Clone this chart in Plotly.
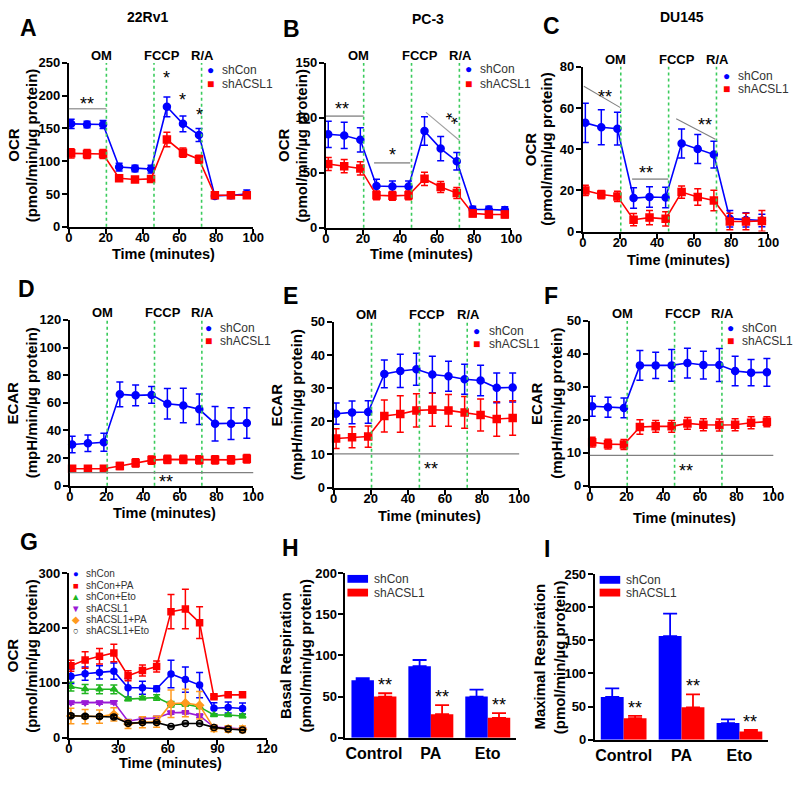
import plotly.graph_objects as go

FIG_W, FIG_H = 800, 785
FONT = "Liberation Sans, Arial, Helvetica, sans-serif"
BLUE, RED = "#0000ff", "#ff0000"
G_COLORS = ["#0000ff", "#ff0000", "#1fb51f", "#9a1ad6", "#ff9a1f", "#000000"]
INJ_GREEN = "#3acb5c"
SIG_GRAY = "#a0a0a0"
LEG_TXT = "#333333"

# ---------------- data ----------------
time12 = [1.3, 9.9, 18.6, 27.3, 35.9, 44.6, 53.2, 61.9, 70.6, 79.2, 87.9, 96.5]
time13 = [1.3, 9.9, 18.6, 27.3, 35.9, 44.6, 53.2, 61.9, 70.6, 79.2, 87.9, 96.5, 105.2]
inject_time = [20.4, 46.2, 72.0]
inject_label = ["OM", "FCCP", "R/A"]
series_names = ["shCon", "shACSL1"]

# A: 22Rv1 OCR
a_con = [157, 156, 156, 91, 89, 88, 183, 157, 140, 47, 48, 50]
a_con_err = [7, 5, 6, 6, 5, 6, 15, 12, 10, 4, 5, 6]
a_kd = [112, 111, 111, 74, 72, 73, 133, 113, 103, 48, 48, 48]
a_kd_err = [7, 7, 7, 4, 3, 4, 11, 7, 6, 3, 3, 3]
# B: PC-3 OCR
b_con = [85, 84, 80, 38, 37.5, 37.5, 88, 72, 60.5, 16.5, 16.5, 16]
b_con_err = [12, 12, 11, 6, 5, 5, 13, 11, 8, 3, 3, 3]
b_kd = [58, 56, 54, 29.5, 29, 29.5, 44.5, 37, 31.5, 13, 12, 12]
b_kd_err = [6, 6, 6, 4, 4, 4, 6, 5, 5, 3, 3, 3]
# C: DU145 OCR
c_con = [52.8, 50.7, 50, 16.3, 16.8, 16.6, 42.8, 40.1, 37.4, 6.3, 5.7, 5.4]
c_con_err = [9.5, 8.5, 8, 5, 5, 5, 7, 7, 6.5, 4, 3.5, 3]
c_kd = [20, 18, 17.1, 5.8, 6.8, 6.2, 19.2, 16.8, 15.1, 4.9, 4.9, 5.2]
c_kd_err = [2.5, 2, 2.5, 3, 3.5, 3.5, 3, 4, 5, 4, 4, 5]
# D: 22Rv1 ECAR
d_con = [29.8, 30.7, 31.4, 66.1, 65.4, 65.7, 59.3, 58.1, 55.3, 44.9, 44.9, 45.4]
d_con_err = [6, 6, 6.5, 9, 7.5, 6, 11, 12.5, 11, 12.5, 11.5, 11]
d_kd = [12.2, 12.2, 12.2, 14.2, 16.5, 18.5, 19, 19, 18.7, 18.7, 18.7, 19.5]
d_kd_err = [2, 2, 2, 2.5, 3, 3, 3, 3, 3, 3, 3, 3]
# E: PC-3 ECAR
e_con = [22.3, 22.7, 22.8, 34.3, 35.2, 35.7, 34.1, 33.6, 32.7, 32.3, 30.1, 30.2]
e_con_err = [3.2, 3.4, 3.4, 4.2, 5, 4.8, 5.5, 4.5, 4.5, 4.6, 4.5, 4.4]
e_kd = [14.8, 15.2, 15.4, 21.6, 22.2, 23.3, 23.5, 23.3, 22.7, 21.9, 20.7, 21.0]
e_kd_err = [3, 3.2, 3.2, 4.8, 5.5, 5, 5, 4.8, 4.8, 4.8, 5.2, 5.2]
# F: DU145 ECAR
f_con = [24.1, 23.8, 23.6, 36.5, 36.5, 36.5, 37.2, 36.6, 36.6, 34.8, 34.3, 34.4]
f_con_err = [3, 3, 3, 4.5, 4, 4.8, 4.5, 4.2, 5, 4.5, 4, 4.2]
f_kd = [13.2, 12.6, 12.5, 17.8, 18, 18, 18.9, 18.5, 18.4, 18.5, 19.1, 19.4]
f_kd_err = [1.5, 1.5, 1.5, 2.2, 1.8, 1.8, 1.8, 1.8, 1.8, 1.8, 1.8, 1.5]

# G: OCR with PA / Eto treatments
g_names = ["shCon", "shCon+PA", "shCon+Eto", "shACSL1", "shACSL1+PA", "shACSL1+Eto"]
g_shcon = [112, 116.6, 119, 121.3, 91, 91, 89.3, 116, 106, 96, 53.8, 55, 53.3]
g_shcon_err = [13, 12, 12, 15, 17, 12, 5, 25, 23, 23, 10, 10, 10]
g_shcon_pa = [131, 141.4, 148.5, 154.4, 113, 122.5, 129.6, 229.6, 234.3, 209.5, 74.6, 78.1, 78.1]
g_shcon_pa_err = [10, 15, 14, 16, 9, 10, 10, 31, 36, 29, 3, 3, 3]
g_shcon_eto = [93, 88.8, 88.2, 88.2, 70.4, 72.2, 73.4, 61, 61, 56.2, 41.4, 41.4, 39.6]
g_shcon_eto_err = [8, 8, 8, 8, 3, 3, 5, 5, 3, 3, 2, 2, 3]
g_shacsl1 = [63.9, 63.9, 63.9, 64.5, 30.2, 34.9, 36.1, 45.6, 46.2, 40.2, 19.5, 17.8, 16]
g_shacsl1_err = [3, 3, 3, 3, 3, 3, 3, 3, 3, 3, 2, 2, 2]
g_shacsl1_pa = [39.6, 38.5, 38.5, 42.6, 24.9, 28.4, 29, 62.1, 63.3, 59.2, 17.2, 16, 15.4]
g_shacsl1_pa_err = [14, 13, 12, 12, 8, 10, 10, 25, 25, 25, 6, 6, 6]
g_shacsl1_eto = [40.2, 39.1, 38.5, 37.9, 26.6, 27.8, 27.8, 20.7, 26, 26, 18.9, 16, 14.2]
g_shacsl1_eto_err = [3, 3, 3, 3, 2, 2, 2, 1, 1, 1, 1, 1, 1]

# H / I: bar charts
bar_cats = ["Control", "PA", "Eto"]
h_con = [69.8, 86.9, 50.0]
h_con_err = [2.4, 7.5, 8.3]
h_kd = [50.0, 28.6, 24.2]
h_kd_err = [4.0, 11.0, 5.6]
i_con = [64.6, 156.3, 25.1]
i_con_err = [12.8, 34.0, 5.5]
i_kd = [32.5, 48.8, 12.3]
i_kd_err = [3.5, 19.7, 2.5]

# significance marks: (x, y, text) and gray lines (x0, y0, x1, y1)
a_stars = [(10.1, 193, "**"), (53.2, 233, "*"), (61.7, 200, "*"), (70.7, 177, "*")]
a_siglines = [(0, 180, 20.4, 180)]
b_stars = [(8.6, 111.6, "**"), (35.8, 69.4, "*")]
b_siglines = [(0, 101.6, 20.4, 101.6), (26.0, 59.0, 45.5, 59.0), (54.0, 105.0, 72.1, 79.4)]
b_rot_star = (67.2, 101.0, "**")
c_stars = [(12.0, 67.1, "**"), (33.9, 30.2, "**"), (65.8, 53.8, "**")]
c_siglines = [(0.5, 70.6, 20.2, 60.2), (26.5, 25.5, 46.0, 25.5), (50.3, 54.8, 71.4, 44.8)]
d_star, d_sigline = (52.4, 5.2, "**"), 9.4
e_star, e_sigline = (52.4, 6.9, "**"), 10.2
f_star, f_sigline = (52.4, 5.7, "**"), 9.2
bar_star_text = "**"

# ---------------- layout helpers ----------------
def px(x):
    return x / FIG_W

def py(y):
    return 1 - y / FIG_H

# panel boxes in pixels: (left, top, right, bottom)
boxes = {
    1: (66, 57, 254, 224),
    2: (328, 57, 517, 225),
    3: (590, 61, 779, 229),
    4: (67, 319, 254, 488),
    5: (336, 321, 525, 490),
    6: (597, 320, 784, 488),
    7: (66, 577, 268, 745),
    8: (348, 577, 522, 745),
    9: (602, 578, 779, 747),
}

fig = go.Figure()
annotations = []
shapes = []

def axn(i):
    return ("x" if i == 1 else f"x{i}"), ("y" if i == 1 else f"y{i}")

def tick_font(size=13):
    return dict(family=FONT, size=size, color="black", weight="bold")

def add_axes(i, xr, xdtick, yr, ydtick, category=False):
    l, t, r, b = boxes[i]
    xa, ya = axn(i)
    xkey = "xaxis" if i == 1 else f"xaxis{i}"
    ykey = "yaxis" if i == 1 else f"yaxis{i}"
    common = dict(showline=True, linecolor="black", linewidth=2, showgrid=False,
                  zeroline=False, fixedrange=True, tickcolor="black", tickwidth=2)
    if category:
        xax = dict(common, domain=[px(l), px(r)], anchor=ya, type="category",
                   range=[-0.5, 2.5], ticks="", tickfont=tick_font(16))
    else:
        xax = dict(common, domain=[px(l), px(r)], anchor=ya, range=xr, dtick=xdtick,
                   tick0=0, ticks="outside", ticklen=5, tickfont=tick_font(),
                   ticklabelstandoff=-7)
    yax = dict(common, domain=[py(b), py(t)], anchor=xa, range=yr, dtick=ydtick,
               tick0=0, ticks="outside", ticklen=5, tickfont=tick_font(),
               ticklabelstandoff=-1)
    fig.update_layout(**{xkey: xax, ykey: yax})

def line_trace(i, x, y, err, color, symbol, name, size=7):
    xa, ya = axn(i)
    fig.add_trace(go.Scatter(
        x=x, y=y, mode="lines+markers", name=name, xaxis=xa, yaxis=ya,
        line=dict(color=color, width=1.6),
        marker=dict(color=color, symbol=symbol, size=size,
                    line=dict(color=color, width=1.5)),
        error_y=dict(type="data", array=err, color=color, thickness=1.5, width=3.5),
        cliponaxis=False, showlegend=False))

def text_ann(x, y, text, size, bold=True, angle=0, color="black", xanchor="center",
             yanchor="middle", pad=1):
    annotations.append(dict(
        x=px(x), y=py(y), xref="paper", yref="paper", text=text, showarrow=False,
        textangle=angle, xanchor=xanchor, yanchor=yanchor, borderpad=pad,
        font=dict(family=FONT, size=size, color=color, weight="bold" if bold else "normal")))

def injections(i):
    xa, ya = axn(i)
    shifts = [-5, 8, 1]
    for t, lab, s in zip(inject_time, inject_label, shifts):
        shapes.append(dict(type="line", xref=xa, yref=f"{ya} domain", x0=t, x1=t, y0=0, y1=1,
                           line=dict(color=INJ_GREEN, width=1.6, dash="3px,3px")))
        annotations.append(dict(x=t, y=1, xref=xa, yref=f"{ya} domain", text=lab,
                                showarrow=False, xanchor="center", yanchor="middle",
                                xshift=s, yshift=7,
                                font=dict(family=FONT, size=13, color="black", weight="bold")))

def stars(i, items, angle=0):
    xa, ya = axn(i)
    for x, y, txt in items:
        annotations.append(dict(x=x, y=y, xref=xa, yref=ya, text=txt, showarrow=False,
                                textangle=angle, xanchor="center", yanchor="middle", yshift=-4,
                                font=dict(family=FONT, size=18, color="black")))

def siglines(i, items, color=SIG_GRAY, width=1.6):
    xa, ya = axn(i)
    for x0, y0, x1, y1 in items:
        shapes.append(dict(type="line", xref=xa, yref=ya, x0=x0, x1=x1, y0=y0, y1=y1,
                           line=dict(color=color, width=width)))

def hline(i, y):
    xa, ya = axn(i)
    shapes.append(dict(type="line", xref=f"{xa} domain", yref=ya, x0=0, x1=1, y0=y, y1=y,
                       line=dict(color="#808080", width=1.2)))

def ytitles(i, main, sub, x_main, x_sub):
    l, t, r, b = boxes[i]
    cy = (t + b) / 2
    text_ann(x_main, cy, main, 15, angle=-90)
    text_ann(x_sub, cy, sub, 15, angle=-90)

def xtitle(i, text, y):
    l, t, r, b = boxes[i]
    text_ann((l + r) / 2 + 3, y, text, 14.5)

def marker_legend(x, y0, dy, glyphs, colors, names, gsize=12, tsize=12, pad=1):
    for k, (g, c, n) in enumerate(zip(glyphs, colors, names)):
        yy = y0 + k * dy
        text_ann(x, yy, g, gsize, bold=False, color=c, pad=pad)
        text_ann(x + 10, yy, n, tsize, bold=False, color=LEG_TXT, xanchor="left", pad=pad)

def bar_legend(x, y0, dy, colors, names):
    for k, (c, n) in enumerate(zip(colors, names)):
        yy = y0 + k * dy
        shapes.append(dict(type="rect", xref="paper", yref="paper", x0=px(x), x1=px(x + 21),
                           y0=py(yy + 4), y1=py(yy - 4), fillcolor=c, line=dict(width=0)))
        text_ann(x + 25, yy, n, 12, bold=False, color=LEG_TXT, xanchor="left")

# ---------------- panels A-F ----------------
line_panels = [
    (1, a_con, a_con_err, a_kd, a_kd_err, [0, 250], 50),
    (2, b_con, b_con_err, b_kd, b_kd_err, [0, 150], 50),
    (3, c_con, c_con_err, c_kd, c_kd_err, [0, 80], 20),
    (4, d_con, d_con_err, d_kd, d_kd_err, [0, 120], 20),
    (5, e_con, e_con_err, e_kd, e_kd_err, [0, 50], 10),
    (6, f_con, f_con_err, f_kd, f_kd_err, [0, 50], 10),
]
for i, con, con_e, kd, kd_e, yr, ydt in line_panels:
    add_axes(i, [0, 100], 20, yr, ydt)
    injections(i)
    line_trace(i, time12, con, con_e, BLUE, "circle", series_names[0])
    line_trace(i, time12, kd, kd_e, RED, "square", series_names[1])

# significance
siglines(1, a_siglines); stars(1, a_stars)
siglines(2, b_siglines[:2]); siglines(2, b_siglines[2:], width=1.1); stars(2, b_stars)
stars(2, [b_rot_star], angle=40)
siglines(3, c_siglines[:1] + c_siglines[2:], color="#808080", width=1.1)
siglines(3, c_siglines[1:2]); stars(3, c_stars)
hline(4, d_sigline); stars(4, [d_star])
hline(5, e_sigline); stars(5, [e_star])
hline(6, f_sigline); stars(6, [f_star])

# ---------------- panel G ----------------
add_axes(7, [0, 120], 30, [0, 300], 100)
g_series = [(g_shcon, g_shcon_err, "circle"), (g_shcon_pa, g_shcon_pa_err, "square"),
            (g_shcon_eto, g_shcon_eto_err, "triangle-up"), (g_shacsl1, g_shacsl1_err, "triangle-down"),
            (g_shacsl1_pa, g_shacsl1_pa_err, "diamond"), (g_shacsl1_eto, g_shacsl1_eto_err, "circle-open")]
for (vals, errs, sym), col, nm in zip(g_series, G_COLORS, g_names):
    line_trace(7, time13, vals, errs, col, sym, nm, size=6)

# ---------------- panels H, I ----------------
for i, con, con_e, kd, kd_e, yr in [(8, h_con, h_con_err, h_kd, h_kd_err, [0, 200]),
                                     (9, i_con, i_con_err, i_kd, i_kd_err, [0, 250])]:
    add_axes(i, None, None, yr, 50, category=True)
    xa, ya = axn(i)
    for vals, errs, col, nm in [(con, con_e, BLUE, "shCon"), (kd, kd_e, RED, "shACSL1")]:
        fig.add_trace(go.Bar(x=bar_cats, y=vals, name=nm, xaxis=xa, yaxis=ya,
                             marker=dict(color=col, line=dict(width=0)),
                             error_y=dict(type="data", symmetric=False, array=errs,
                                          arrayminus=[0] * len(errs), color=col,
                                          thickness=1.8, width=7),
                             showlegend=False))
    for c, v, e in zip(bar_cats, kd, kd_e):
        annotations.append(dict(x=c, y=v + e, xref=xa, yref=ya, text=bar_star_text,
                                showarrow=False, xanchor="center", yanchor="bottom",
                                xshift=11, yshift=-4,
                                font=dict(family=FONT, size=18, color="black")))

# ---------------- titles, letters, axis titles ----------------
text_ann(146, 10, "22Rv1", 14)
text_ann(432, 12, "PC-3", 14)
text_ann(691, 10, "DU145", 14)
for letter, (lx, ly) in zip("ABCDEFGHI", [(25, 21), (293, 22), (558, 19), (23, 288), (292, 295),
                                           (557, 295), (25, 545), (292, 552), (553, 553)]):
    text_ann(lx, ly, letter, 23)

ytitles(1, "OCR", "(pmol/min/µg protein)", 10, 28)
ytitles(2, "OCR", "(pmol/min/µg protein)", 285, 303)
ytitles(3, "OCR", "(pmol/min/µg protein)", 536, 553)
ytitles(4, "ECAR", "(mpH/min/µg protein)", 9, 28)
ytitles(5, "ECAR", "(mpH/min/µg protein)", 278, 298)
ytitles(6, "ECAR", "(mpH/min/µg protein)", 542, 563)
ytitles(7, "OCR", "(pmol/min/µg protein)", 9, 28)
ytitles(8, "Basal Respiration", "(pmol/min/µg protein)", 287, 307)
ytitles(9, "Maximal Respiration", "(pmol/min/µg protein)", 546, 566)

for i, y in [(1, 252), (2, 252), (3, 258), (4, 516), (5, 519), (6, 521), (7, 771)]:
    xtitle(i, "Time (minutes)", y)

# legends
marker_legend(210, 64, 14, ["●", "■"], [BLUE, RED], series_names)
marker_legend(473, 63, 15, ["●", "■"], [BLUE, RED], series_names)
marker_legend(736, 70, 14, ["●", "■"], [BLUE, RED], series_names)
marker_legend(208, 327, 14, ["●", "■"], [BLUE, RED], series_names)
marker_legend(482, 330, 14, ["●", "■"], [BLUE, RED], series_names)
marker_legend(740, 327, 14, ["●", "■"], [BLUE, RED], series_names)
marker_legend(73, 578, 11.6, ["●", "■", "▲", "▼", "◆", "○"], G_COLORS, g_names,
              gsize=9.5, tsize=10, pad=0)
bar_legend(350, 583, 14, [BLUE, RED], ["shCon", "shACSL1"])
bar_legend(607, 584, 13, [BLUE, RED], ["shCon", "shACSL1"])

fig.update_layout(
    width=FIG_W, height=FIG_H, margin=dict(l=0, r=0, t=0, b=0),
    paper_bgcolor="white", plot_bgcolor="white", showlegend=False,
    barmode="group", bargap=0.21, bargroupgap=0,
    annotations=annotations, shapes=shapes,
    font=dict(family=FONT, color="black"),
)
fig.write_html("out.html", config={"displayModeBar": False, "staticPlot": True},
               post_script="document.body.style.margin='0px';")
